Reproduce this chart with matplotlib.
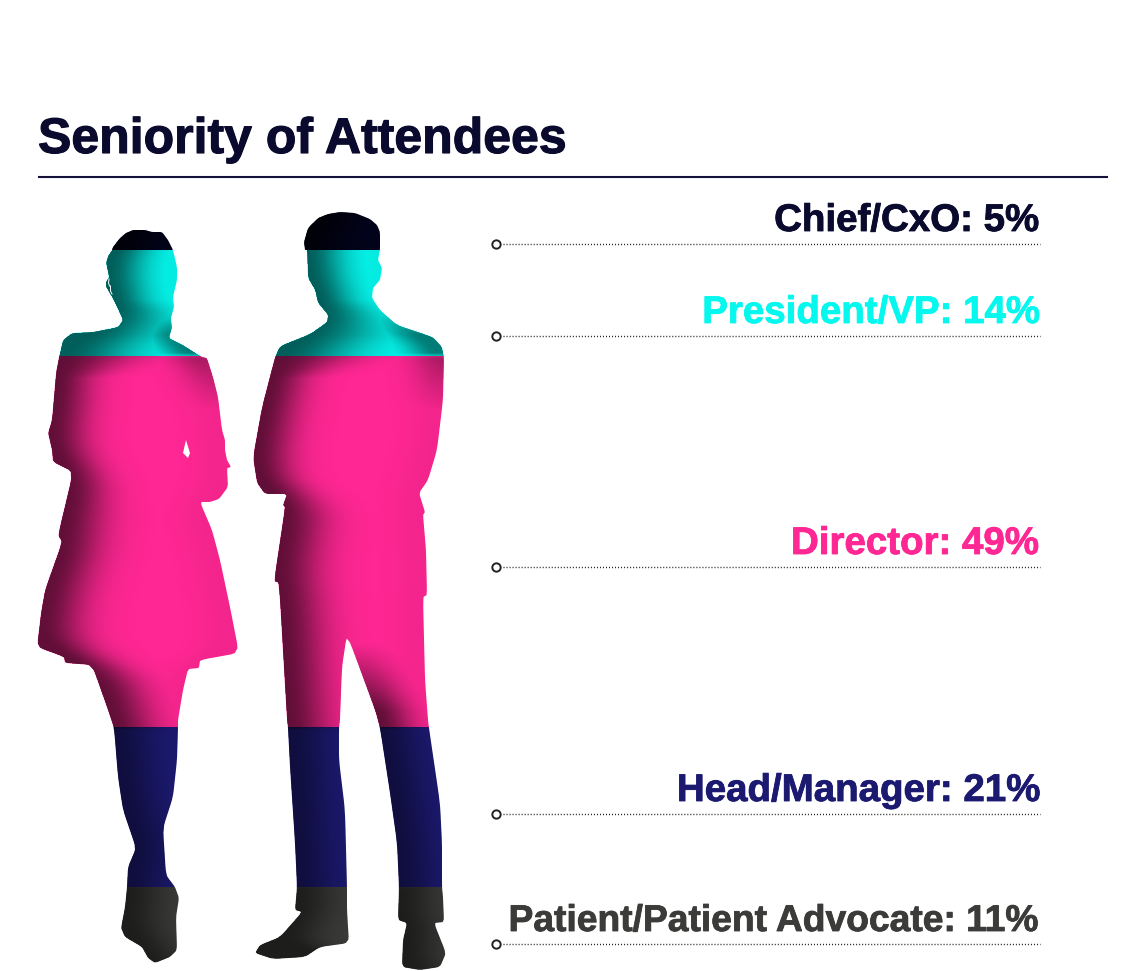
import numpy as np
import matplotlib
matplotlib.use("Agg")
import matplotlib.pyplot as plt
import matplotlib.patheffects as pe
from matplotlib.path import Path

W, H = 1146, 971

title = "Seniority of Attendees"
categories = ["Chief/CxO", "President/VP", "Director", "Head/Manager", "Patient/Patient Advocate"]
shares = [5, 14, 49, 21, 11]
colors = ["#03031C", "#05F8EE", "#FF2793", "#1C1A70", "#3B3B39"]
text_colors = ["#0A0A2E", "#05F8EE", "#FF2793", "#1C1A70", "#3B3B39"]
label_sizes = [27.7, 27.7, 27.7, 27.7, 26.8]
label_baselines = [231, 323, 554, 801, 931]
leader_rows = [244, 336, 567, 814, 944]

# Illustration outlines, in picture pixels
woman = [(112,250),(113,247),(120,238),(126,233),(133,230),(145,230),(152,232),(162,232),(168,240),(173,250),
 (177,267),(177,280),(173,297),(174,307),(171,318),(172,328),(169,338),(183,345),(202,357),(207,358),(213,377),
 (218,397),(222,430),(225,440),(225,450),(227,460),(231,467),(227,468),(228,487),(219,499),(210,502),(200,502),
 (212,530),(220,560),(230,607),(239,653),(200,660),(199,668),(188,669),(183,690),(178,720),(178,728),(177,760),
 (173,797),(163,828),(166,875),(175,887),(179,898),(176,917),(177,950),(170,957),(155,963),(148,958),(142,947),
 (125,937),(121,928),(125,907),(127,887),(128,867),(136,848),(123,810),(118,777),(114,728),(108,710),(92,665),
 (65,663),(64,657),(37,647),(41,613),(45,590),(62,542),(58,535),(73,472),(53,462),(52,450),(48,433),(52,420),
 (56,373),(59,357),(63,340),(72,333),(93,332),(118,327),(123,320),(115,303),(112,297),(106,287),(106,282),
 (109,277),(106,263),(108,256)]
gap = [(186,440),(183,453),(188,458),(190,453)]
man = [(305,250),(304,242),(308,228),(318,218),(328,214),(340,212),(355,213),(370,219),(377,225),(380,232),(380,250),
 (378,260),(382,268),(380,280),(373,288),(372,298),(380,310),(397,325),(433,337),(442,347),(444,357),(443,400),
 (437,450),(428,480),(419,493),(425,512),(423,515),(426,550),(427,595),(423,597),(425,680),(428,720),(429,728),
 (440,803),(442,843),(442,887),(443,897),(444,922),(434,923),(446,953),(440,967),(420,970),(402,967),(403,940),
 (407,923),(398,920),(399,887),(397,843),(390,793),(380,728),(375,710),(347,634),(342,667),(340,720),(339,728),
 (339,760),(345,810),(347,887),(347,910),(349,943),(320,947),(305,957),(273,959),(255,953),(260,945),(280,937),
 (302,912),(295,910),(297,887),(295,843),(290,767),(288,728),(287,720),(279,583),(274,581),(285,507),(283,505),
 (287,494),(265,494),(257,483),(253,457),(262,407),(275,357),(280,346),(310,334),(327,322),(328,315),(318,303),
 (315,290),(308,278),(307,250)]


def rounded(pts, passes=2, cut=0.12):
    p = np.array(pts, float)
    for _ in range(passes):
        nxt = np.roll(p, -1, axis=0)
        a = p + (nxt - p) * cut
        b = p + (nxt - p) * (1 - cut)
        p = np.column_stack([a, b]).reshape(-1, 2)
    return p


def closed(pts):
    p = np.asarray(pts, float)
    return Path(np.vstack([p, p[0]]), closed=True)


woman_path = closed(rounded(woman))
man_path = closed(rounded(man))
figure_path = Path.make_compound_path(woman_path, closed(gap), man_path)

fig = plt.figure(figsize=(W / 100, H / 100), dpi=100, facecolor="white")
plt.rcParams["font.family"] = ["Liberation Sans", "DejaVu Sans"]
plt.rcParams["text.hinting"] = "no_hinting"
plt.rcParams["text.hinting_factor"] = 1

# Stacked share bars, 100% spans the height of the figures (y 212 to 970)
bar_ax = fig.add_axes([0, 1 - 970 / H, 1, (970 - 212) / H], zorder=1)
bar_ax.set_xlim(0, 1)
bar_ax.set_ylim(100, 0)
bar_ax.axis("off")

ax = fig.add_axes([0, 0, 1, 1], zorder=2)
ax.set_xlim(0, W)
ax.set_ylim(H, 0)
ax.axis("off")
ax.patch.set_alpha(0)

bottoms = np.concatenate([[0], np.cumsum(shares)[:-1]])
for value, base, colour in zip(shares, bottoms, colors):
    bars = bar_ax.bar(0.5, value, width=1, bottom=base, color=colour, linewidth=0)
    bars[0].set_clip_path(figure_path, ax.transData)

# Side shading of the figures, following softened edges of each silhouette
xx, yy = np.meshgrid(np.arange(W) + 0.5, np.arange(H) + 0.5)
pts = np.column_stack([xx.ravel(), yy.ravel()])
mask_w = woman_path.contains_points(pts).reshape(H, W)
mask_m = man_path.contains_points(pts).reshape(H, W)


def smooth(values, sigma):
    span = int(3 * sigma)
    k = np.exp(-0.5 * (np.arange(-span, span + 1) / sigma) ** 2)
    k /= k.sum()
    padded = np.pad(values, span, mode="edge")
    return np.convolve(padded, k, mode="valid")


def runs(row):
    d = np.diff(np.concatenate([[0], row.astype(int), [0]]))
    return np.where(d == 1)[0], np.where(d == -1)[0]


rows = np.arange(H) + 0.5
shoulder = np.clip((rows - 300) / 35, 0, 1) * np.clip((378 - rows) / 22, 0, 1)
left_width = 36 + 34 * shoulder + 6 * np.clip((rows - 480) / 40, 0, 1) - 6 * np.clip((rows - 727) / 10, 0, 1)
left_amp = 0.62 - 0.17 * np.clip((rows - 727) / 3, 0, 1) + 0.05 * np.clip((rows - 887) / 3, 0, 1)
right_amp = (0.05 + 0.45 * np.clip((rows - 310) / 25, 0, 1) * np.clip((357 - rows) / 4, 0, 1)
             + 0.27 * np.clip((rows - 355) / 3, 0, 1) * np.clip((410 - rows) / 50, 0, 1))
shade = np.zeros((H, W))

for mask in (mask_w, mask_m):
    active = np.where(mask.any(axis=1))[0]
    r0, r1 = active[0], active[-1] + 1
    left = np.array([np.argmax(mask[r]) for r in range(r0, r1)], float)
    right = np.array([W - np.argmax(mask[r][::-1]) for r in range(r0, r1)], float)
    left_s = smooth(left, 14)
    right_s = smooth(right, 14)
    for i, r in enumerate(range(r0, r1)):
        x = np.arange(W) + 0.5
        term_l = left_amp[r] * np.exp(-(np.clip(x - left_s[i], 0, None) / left_width[r]) ** 2)
        term_r = right_amp[r] * np.exp(-(np.clip(right_s[i] - x, 0, None) / 30.0) ** 2)
        shade[r] = np.maximum(shade[r], np.maximum(term_l, term_r) * mask[r])

# Inner leg of the man: a second shadow that fades in below the crotch
legs = []
for r in np.where(mask_m.any(axis=1))[0]:
    s, _ = runs(mask_m[r])
    if r > 630 and (len(s) >= 2 or r > 955):
        legs.append((r, s[-1]))
leg_rows = np.array([v[0] for v in legs])
leg_left = smooth(np.array([v[1] for v in legs], float), 10)
for r, s in zip(leg_rows, leg_left):
    ramp = np.clip((r - 640) / 70, 0, 1)
    x = np.arange(W) + 0.5
    inner = ramp * left_amp[r] * np.exp(-(np.clip(x - s, 0, None) / 34.0) ** 2) * (x > s - 8)
    shade[r] = np.maximum(shade[r], inner * mask_m[r])

rgba = np.zeros((H, W, 4))
rgba[..., 3] = np.clip(shade, 0, 1)
im = ax.imshow(rgba, extent=(0, W, H, 0), aspect="auto", interpolation="bilinear", zorder=3)
im.set_clip_path(figure_path, ax.transData)
ax.set_xlim(0, W)
ax.set_ylim(H, 0)

# Glasses detail
ax.plot([109, 108.5, 109.5], [279, 283, 286], color="white", lw=0.7, zorder=4)
ax.plot([110.5, 110.5, 112], [286, 291, 294], color="white", lw=0.7, zorder=4)

# Title and rule
ax.text(38, 153, title, fontsize=36, fontweight="bold", color="#0A0A2E", ha="left", va="baseline",
        path_effects=[pe.withStroke(linewidth=0.8, foreground="#0A0A2E")])
ax.plot([38, 1108], [177.5, 177.5], color="#14123A", lw=1.5, solid_capstyle="butt")

# Labels and leaders
for cat, val, colour, size, base, row in zip(categories, shares, text_colors, label_sizes, label_baselines, leader_rows):
    ax.text(1036, base, f"{cat}: {val}%", fontsize=size, fontweight="bold", color=colour, ha="right", va="baseline",
            path_effects=[pe.withStroke(linewidth=0.6, foreground=colour)])
    ax.plot([503, 1040], [row, row], color="#222222", lw=1.0, linestyle=(0, (0.75, 1.42)))
    ax.plot([496], [row], marker="o", ms=6, mfc="white", mec="#222222", mew=1.4, linestyle="none")

fig.savefig("out.png", dpi=100, facecolor="white")
